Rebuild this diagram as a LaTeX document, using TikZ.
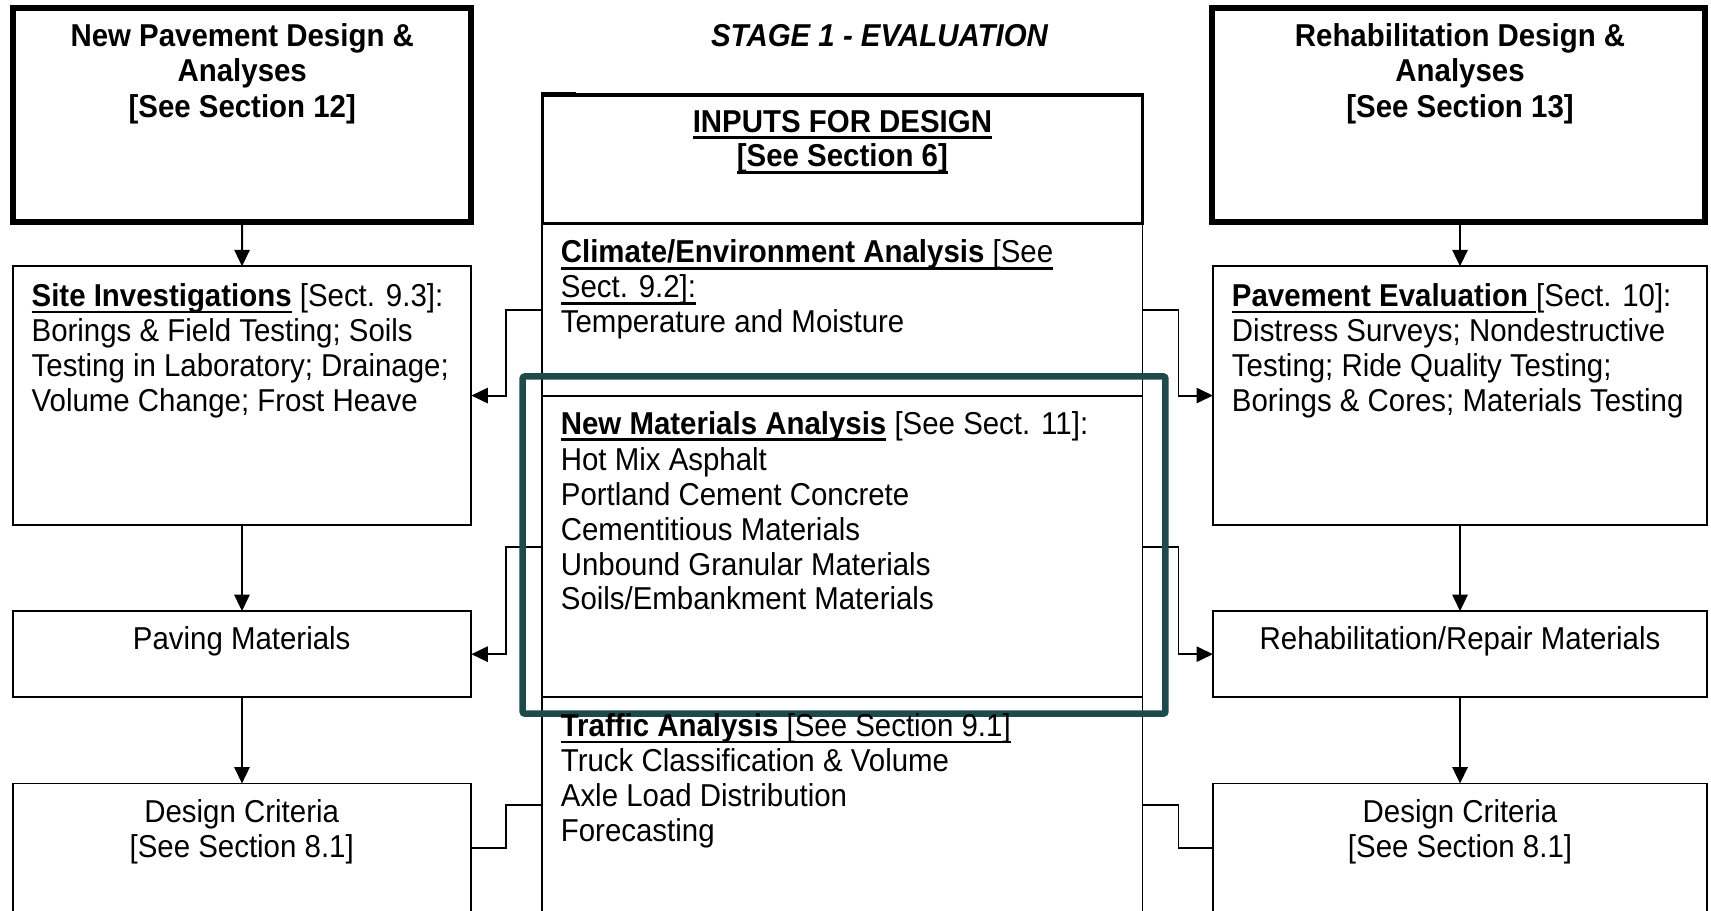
\documentclass[tikz,border=0pt]{standalone}
\usepackage{fontspec}
\setmainfont{Liberation Sans}[FakeStretch=0.93]
\usetikzlibrary{arrows.meta}
\definecolor{frameteal}{HTML}{1F4A4B}
% underline with a fixed offset below the baseline
\newcommand\ulbox[1]{\setbox0\hbox{#1}\rlap{\rule[-6.2pt]{\wd0}{2.4pt}}\box0\relax}

\begin{document}
\begin{tikzpicture}[x=1pt,y=-1pt,
  box/.style={draw, rectangle, line width=1.8pt, inner sep=0pt, outer sep=0pt, anchor=north west},
  heavybox/.style={box, line width=5.5pt},
  headbox/.style={box, line width=3pt},
  txt/.style={inner sep=0pt, outer sep=0pt, font=\fontsize{29}{32}\selectfont},
  bt/.style={txt, font=\fontsize{29}{32}\selectfont\bfseries},
  link/.style={line width=1.8pt},
  arr/.style={link, -{Triangle[length=15pt,width=14pt]}},
]
\clip (0,0) rectangle (1568,834);
\fill[white] (0,0) rectangle (1568,834);

% ---------- left column ----------
\node[heavybox, minimum width=420pt, minimum height=195.5pt] (newpav) at (12,7.5) {};
\node[box, minimum width=420.5pt, minimum height=237pt] (site) at (11.5,244) {};
\node[box, minimum width=420.5pt, minimum height=79pt] (paving) at (11.5,560) {};
\node[box, minimum width=420.5pt, minimum height=118pt] (critL) at (11.5,718) {};

% ---------- right column ----------
\node[heavybox, minimum width=451.5pt, minimum height=195.5pt] (rehab) at (1111,7.5) {};
\node[box, minimum width=453pt, minimum height=237pt] (evalbox) at (1111.5,244) {};
\node[box, minimum width=453pt, minimum height=79pt] (repair) at (1111.5,560) {};
\node[box, minimum width=453pt, minimum height=118pt] (critR) at (1111.5,718) {};

% ---------- centre column ----------
\node[box, minimum width=550pt, minimum height=158pt] (climate) at (497,205) {};
\node[box, minimum width=550pt, minimum height=276pt] (newmat) at (497,363) {};
\node[box, minimum width=550pt, minimum height=197pt] (traffic) at (497,639) {};
\node[headbox, minimum width=550pt, minimum height=118pt] (inputs) at (497,87) {};
\fill (495.5,84) rectangle (528,88.5);

% ---------- vertical flow ----------
\draw[arr] (newpav.south) -- (site.north);
\draw[arr] (site.south) -- (paving.north);
\draw[arr] (paving.south) -- (critL.north);
\draw[arr] (evalbox.north |- rehab.south) -- (evalbox.north);
\draw[arr] (evalbox.south) -- (repair.north);
\draw[arr] (repair.south) -- (critR.north);

% ---------- side links ----------
\draw[arr] (climate.west) -- ++(-33,0) |- (site.east);
\draw[arr] (newmat.west) -- ++(-33,0) |- (paving.east);
\draw[link] (traffic.west) -- ++(-33,0) |- (critL.east);
\draw[arr] (climate.east) -- ++(33,0) |- (evalbox.west);
\draw[arr] (newmat.east) -- ++(33,0) |- (repair.west);
\draw[link] (traffic.east) -- ++(33,0) |- (critR.west);

% ---------- highlight frame ----------
\node[draw=frameteal, line width=6pt, rounded corners=2pt, rectangle, inner sep=0pt, outer sep=0pt,
      anchor=north west, minimum width=589pt, minimum height=309pt] (focus) at (479,345) {};

% ---------- texts ----------
\node[txt, font=\fontsize{29}{32}\selectfont\bfseries\itshape, anchor=base] (stage) at (806,43) {STAGE 1 - EVALUATION};

\node[bt, anchor=base] (np1) at (222,43) {New Pavement Design \&};
\node[bt, anchor=base] (np2) at (222,75) {Analyses};
\node[bt, anchor=base] (np3) at (222,108) {[See Section 12]};

\node[bt, anchor=base] (rd1) at (1338,43) {Rehabilitation Design \&};
\node[bt, anchor=base] (rd2) at (1338,75) {Analyses};
\node[bt, anchor=base] (rd3) at (1338,108) {[See Section 13]};

\node[bt, anchor=base] (in1) at (772,121) {\ulbox{INPUTS FOR DESIGN}};
\node[bt, anchor=base] (in2) at (772,153) {\ulbox{[See Section 6]}};

\node[txt, anchor=base west] (cl1) at (514,241) {\ulbox{\textbf{Climate/Environment Analysis} [See}};
\node[txt, anchor=base west] (cl2) at (514,273) {\ulbox{Sect. 9.2]:}};
\node[txt, anchor=base west] (cl3) at (514,305) {Temperature and Moisture};

\node[txt, anchor=base west] (nm1) at (514,398) {\ulbox{\textbf{New Materials Analysis}} [See Sect. 11]:};
\node[txt, anchor=base west] (nm2) at (514,431) {Hot Mix Asphalt};
\node[txt, anchor=base west] (nm3) at (514,463) {Portland Cement Concrete};
\node[txt, anchor=base west] (nm4) at (514,495) {Cementitious Materials};
\node[txt, anchor=base west] (nm5) at (514,527) {Unbound Granular Materials};
\node[txt, anchor=base west] (nm6) at (514,559) {Soils/Embankment Materials};

\node[txt, anchor=base west] (tr1) at (514,675) {\ulbox{\textbf{Traffic Analysis} [See Section 9.1]}};
\node[txt, anchor=base west] (tr2) at (514,707) {Truck Classification \& Volume};
\node[txt, anchor=base west] (tr3) at (514,739) {Axle Load Distribution};
\node[txt, anchor=base west] (tr4) at (514,771) {Forecasting};

\node[txt, anchor=base west] (si1) at (29,281) {\ulbox{\textbf{Site Investigations}} [Sect. 9.3]:};
\node[txt, anchor=base west] (si2) at (29,313) {Borings \& Field Testing; Soils};
\node[txt, anchor=base west] (si3) at (29,345) {Testing in Laboratory; Drainage;};
\node[txt, anchor=base west] (si4) at (29,377) {Volume Change; Frost Heave};

\node[txt, anchor=base west] (pe1) at (1129,281) {\ulbox{\textbf{Pavement Evaluation }}[Sect. 10]:};
\node[txt, anchor=base west] (pe2) at (1129,313) {Distress Surveys; Nondestructive};
\node[txt, anchor=base west] (pe3) at (1129,345) {Testing; Ride Quality Testing;};
\node[txt, anchor=base west] (pe4) at (1129,377) {Borings \& Cores; Materials Testing};

\node[txt, anchor=base] (pm) at (221.5,595) {Paving Materials};
\node[txt, anchor=base] (rm) at (1338,595) {Rehabilitation/Repair Materials};

\node[txt, anchor=base] (dl1) at (221.5,754) {Design Criteria};
\node[txt, anchor=base] (dl2) at (221.5,786) {[See Section 8.1]};
\node[txt, anchor=base] (dr1) at (1338,754) {Design Criteria};
\node[txt, anchor=base] (dr2) at (1338,786) {[See Section 8.1]};
\end{tikzpicture}
\end{document}
